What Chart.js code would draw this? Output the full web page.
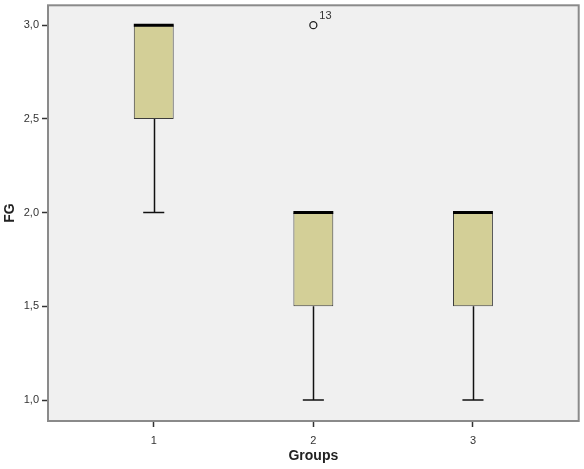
<!DOCTYPE html>
<html>
<head>
<meta charset="utf-8">
<script src="https://cdn.jsdelivr.net/npm/chart.js@4.4.1/dist/chart.umd.min.js"></script>
<style>
  html, body { margin: 0; padding: 0; background: #fff; }
  #wrap { width: 584px; height: 469px; }
</style>
</head>
<body>
<div id="wrap"><canvas id="boxChart" width="584" height="469"></canvas></div>
<script>
// boxplot summary per group
const groups = [1, 2, 3];
const whiskerLow = [2.0, 1.0, 1.0];
const q1 = [2.5, 1.5, 1.5];
const median = [3.0, 2.0, 2.0];
const q3 = [3.0, 2.0, 2.0];
const whiskerHigh = [3.0, 2.0, 2.0];

// outliers
const outlierGroups = [2];
const outlierValues = [3.0];
const outlierLabels = ['13'];

const yTicks = [1.0, 1.5, 2.0, 2.5, 3.0];

const capHalf = 0.066; // whisker cap half width, in x units

const boxPlugin = {
    id: 'boxPlugin',
    beforeDraw(chart) {
        const { ctx, chartArea: a } = chart;
        ctx.save();
        ctx.fillStyle = '#f0f0f0';
        ctx.fillRect(a.left, a.top, a.right - a.left, a.bottom - a.top);
        ctx.restore();
    },
    beforeDatasetsDraw(chart) {
        const { ctx, scales: { x, y } } = chart;
        ctx.save();
        ctx.strokeStyle = '#111';
        ctx.lineWidth = 1.5;
        groups.forEach((g, i) => {
            const cx = Math.round(x.getPixelForValue(g)) + 0.5;
            const cl = x.getPixelForValue(g - capHalf);
            const cr = x.getPixelForValue(g + capHalf);
            // lower whisker
            if (whiskerLow[i] < q1[i]) {
                const yl = y.getPixelForValue(whiskerLow[i]);
                ctx.beginPath();
                ctx.moveTo(cx, y.getPixelForValue(q1[i]));
                ctx.lineTo(cx, yl);
                ctx.moveTo(cl, yl);
                ctx.lineTo(cr, yl);
                ctx.stroke();
            }
            // upper whisker
            if (whiskerHigh[i] > q3[i]) {
                const yh = y.getPixelForValue(whiskerHigh[i]);
                ctx.beginPath();
                ctx.moveTo(cx, y.getPixelForValue(q3[i]));
                ctx.lineTo(cx, yh);
                ctx.moveTo(cl, yh);
                ctx.lineTo(cr, yh);
                ctx.stroke();
            }
        });
        ctx.restore();
    },
    afterDatasetsDraw(chart) {
        const { ctx, scales: { x, y } } = chart;
        const bars = chart.getDatasetMeta(0).data;
        ctx.save();
        // medians
        ctx.strokeStyle = '#000';
        ctx.lineWidth = 3;
        bars.forEach((bar, i) => {
            const ym = y.getPixelForValue(median[i]);
            ctx.beginPath();
            ctx.moveTo(bar.x - bar.width / 2, ym);
            ctx.lineTo(bar.x + bar.width / 2, ym);
            ctx.stroke();
        });
        // outlier labels
        ctx.fillStyle = '#333';
        ctx.font = '11px "Liberation Sans", Arial, sans-serif';
        ctx.textAlign = 'left';
        ctx.textBaseline = 'middle';
        outlierGroups.forEach((g, i) => {
            ctx.fillText(outlierLabels[i], x.getPixelForValue(g) + 6, y.getPixelForValue(outlierValues[i]) - 9);
        });
        ctx.restore();
    },
    afterDraw(chart) {
        const { ctx, chartArea: a } = chart;
        ctx.save();
        ctx.strokeStyle = '#8a8a8a';
        ctx.lineWidth = 2;
        ctx.strokeRect(a.left, a.top, a.right - a.left, a.bottom - a.top);
        ctx.restore();
    }
};

const ctx = document.getElementById('boxChart').getContext('2d');
new Chart(ctx, {
    data: {
        datasets: [
            {
                type: 'bar',
                label: 'box',
                data: groups.map((g, i) => ({ x: g, y: [q1[i], q3[i]] })),
                backgroundColor: '#d3cf97',
                borderColor: '#3c3c3c',
                borderWidth: 1,
                borderSkipped: false,
                barPercentage: 0.25,
                categoryPercentage: 1.0
            },
            {
                type: 'scatter',
                label: 'outliers',
                data: outlierGroups.map((g, i) => ({ x: g, y: outlierValues[i] })),
                pointStyle: 'circle',
                pointRadius: 3.5,
                pointBackgroundColor: 'rgba(0,0,0,0)',
                pointBorderColor: '#222',
                pointBorderWidth: 1.3
            }
        ]
    },
    options: {
        responsive: false,
        animation: false,
        layout: { padding: { top: 4, right: 4, left: 0, bottom: 0 } },
        plugins: {
            legend: { display: false },
            tooltip: { enabled: false }
        },
        scales: {
            x: {
                type: 'linear',
                offset: false,
                min: 0.3375,
                max: 3.6625,
                afterFit: s => { s.height = 48; s.paddingLeft = 0; s.paddingRight = 0; },
                grid: { drawOnChartArea: false, tickLength: 6, tickColor: '#333', tickWidth: 1.5, offset: false },
                border: { display: false },
                ticks: {
                    stepSize: 1,
                    includeBounds: false,
                    padding: 7,
                    color: '#333',
                    font: { size: 11, family: '"Liberation Sans", Arial, sans-serif' }
                },
                title: {
                    display: true,
                    text: 'Groups',
                    color: '#222',
                    font: { size: 14, weight: 'bold', family: '"Liberation Sans", Arial, sans-serif' },
                    padding: { top: 0, bottom: 4 }
                }
            },
            y: {
                min: 0.888,
                max: 3.106,
                afterFit: s => { s.width = 48; s.paddingTop = 0; s.paddingBottom = 0; },
                afterBuildTicks: s => { s.ticks = yTicks.map(v => ({ value: v })); },
                grid: { drawOnChartArea: false, tickLength: 6, tickColor: '#333', tickWidth: 1.5 },
                border: { display: false },
                ticks: {
                    padding: 3,
                    color: '#333',
                    font: { size: 11, family: '"Liberation Sans", Arial, sans-serif' },
                    callback: v => v.toFixed(1).replace('.', ',')
                },
                title: {
                    display: true,
                    text: 'FG',
                    color: '#222',
                    font: { size: 14, weight: 'bold', family: '"Liberation Sans", Arial, sans-serif' },
                    padding: { top: 2, bottom: 0 }
                }
            }
        }
    },
    plugins: [boxPlugin]
});
</script>
</body>
</html>
